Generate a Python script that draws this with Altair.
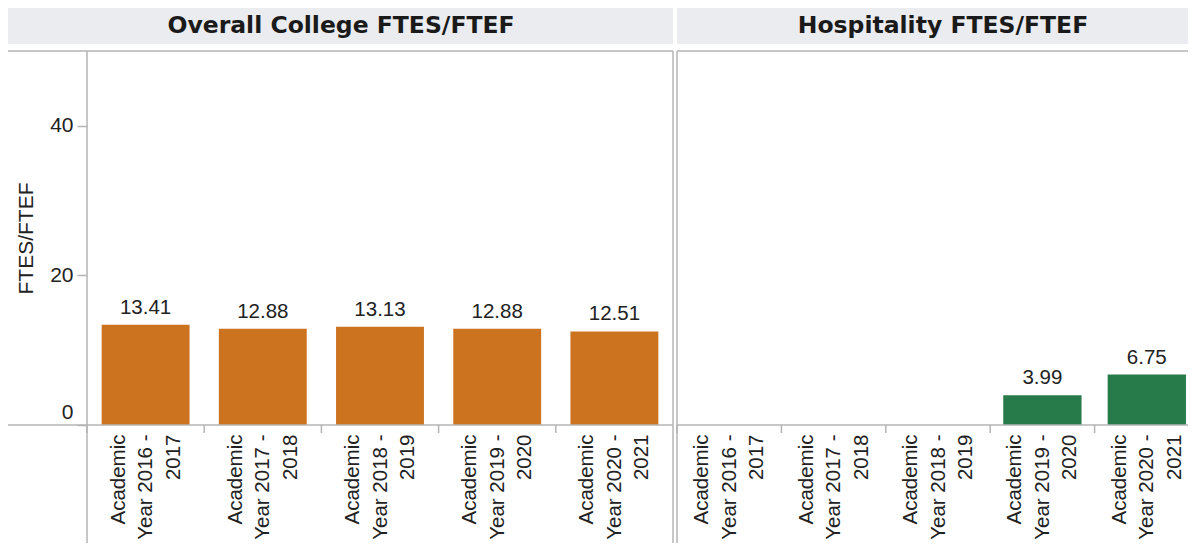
import altair as alt
import pandas as pd

# ---- data ----
years = [
    "Academic Year 2016 - 2017",
    "Academic Year 2017 - 2018",
    "Academic Year 2018 - 2019",
    "Academic Year 2019 - 2020",
    "Academic Year 2020 - 2021",
]
college_values = [13.41, 12.88, 13.13, 12.88, 12.51]
hosp_years = ["Academic Year 2019 - 2020", "Academic Year 2020 - 2021"]
hosp_values = [3.99, 6.75]
panel_titles = ["Overall College FTES/FTEF", "Hospitality FTES/FTEF"]
y_title = "FTES/FTEF"
y_ticks = [0, 20, 40]
y_domain = [0, 50]

# ---- styling ----
FONT = "Liberation Sans"
HFONT = "DejaVu Sans"
LINE = "#b4b4b4"
HEAD_BG = "#ebecef"
TXT = "#222222"
ORANGE = "#cc7320"
GREEN = "#277a4a"
H = 374
EXT = 492
LW, RW = 586, 511

college_df = pd.DataFrame({"year": years, "value": college_values})
hosp_df = pd.DataFrame({"year": hosp_years, "value": hosp_values})
years_df = pd.DataFrame({"year": years})
one = pd.DataFrame({"k": [0]})

label_expr = (
    "datum.label ? ['Academic', 'Year ' + substring(datum.label, 14, 20), "
    "substring(datum.label, 21)] : ''"
)


def panel(df, color, width, rng, show_y, title, left_ext, title_x, right_border):
    x_axis = alt.Axis(
        title=None,
        labelAngle=270,
        labelExpr=label_expr,
        labelFont=FONT,
        labelFontSize=20.5,
        labelLineHeight=27.5,
        labelColor=TXT,
        labelAlign="right",
        labelBaseline="middle",
        labelPadding=9,
        labelOffset=-27,
        labelLimit=300,
        ticks=False,
        domain=False,
        grid=False,
    )
    x_scale = alt.Scale(domain=years, range=[0, rng], paddingInner=0.25, paddingOuter=0.125)
    x_enc = alt.X("year:N", sort=years, scale=x_scale, axis=x_axis)
    if show_y:
        y_axis = alt.Axis(
            values=y_ticks,
            title=y_title,
            titleFont=FONT,
            titleFontSize=21,
            titleFontWeight="normal",
            titleColor=TXT,
            titlePadding=13,
            labelFont=FONT,
            labelFontSize=21,
            labelColor=TXT,
            labelPadding=4,
            labelFlush=True,
            labelFlushOffset=-3,
            tickSize=10,
            tickColor=LINE,
            tickWidth=1.5,
            domain=False,
            grid=False,
        )
    else:
        y_axis = None
    y_enc = alt.Y("value:Q", scale=alt.Scale(domain=y_domain), axis=y_axis)

    step = rng / 5.0
    base = alt.Chart(df)
    bars = base.mark_bar(color=color, clip=True).encode(x=x_enc, y=y_enc)
    vals = base.mark_text(
        font=FONT, fontSize=20.5, color=TXT, baseline="bottom", dy=-7
    ).encode(
        x=alt.X("year:N", sort=years),
        y=alt.Y("value:Q"),
        text=alt.Text("value:Q", format=".2f"),
    )
    ticks = alt.Chart(years_df).mark_rule(
        color=LINE, strokeWidth=1.5, xOffset=-0.125 * step
    ).encode(
        x=alt.X("year:N", sort=years, bandPosition=0),
        y=alt.value(H),
        y2=alt.value(H + 8),
    )

    deco = alt.Chart(one)
    head = deco.mark_rect(color=HEAD_BG).encode(
        x=alt.value(left_ext), x2=alt.value(width), y=alt.value(-45), y2=alt.value(-7)
    )
    head_txt = deco.mark_text(
        font=HFONT, fontWeight="bold", fontSize=23.5, color="#1a1a1a",
        align="center", baseline="alphabetic",
    ).encode(x=alt.value(title_x), y=alt.value(-18), text=alt.value(title))
    top_line = deco.mark_rule(color=LINE, strokeWidth=1.5).encode(
        x=alt.value(left_ext), x2=alt.value(width), y=alt.value(0)
    )
    zero_line = deco.mark_rule(color=LINE, strokeWidth=1.5).encode(
        x=alt.value(left_ext), x2=alt.value(width), y=alt.value(H)
    )
    left_line = deco.mark_rule(color=LINE, strokeWidth=1.5).encode(
        x=alt.value(0), y=alt.value(0), y2=alt.value(EXT)
    )
    layers = [head, bars, vals, ticks, top_line, zero_line, left_line]
    if right_border:
        layers.append(
            deco.mark_rule(color=LINE, strokeWidth=1.5).encode(
                x=alt.value(width), y=alt.value(0), y2=alt.value(EXT)
            )
        )
    layers.append(head_txt)
    return alt.layer(*layers).properties(width=width, height=H)


left = panel(college_df, ORANGE, LW, LW, True, panel_titles[0], -80, 254, True)
right = panel(hosp_df, GREEN, RW, 522, False, panel_titles[1], 0, 266, False)

chart = (
    alt.hconcat(left, right, spacing=0)
    .properties(padding={"left": -3, "top": -3, "right": -10, "bottom": 0})
    .configure_view(stroke="transparent")
)

chart.save("out.html", embed_options={"renderer": "svg", "actions": False})
